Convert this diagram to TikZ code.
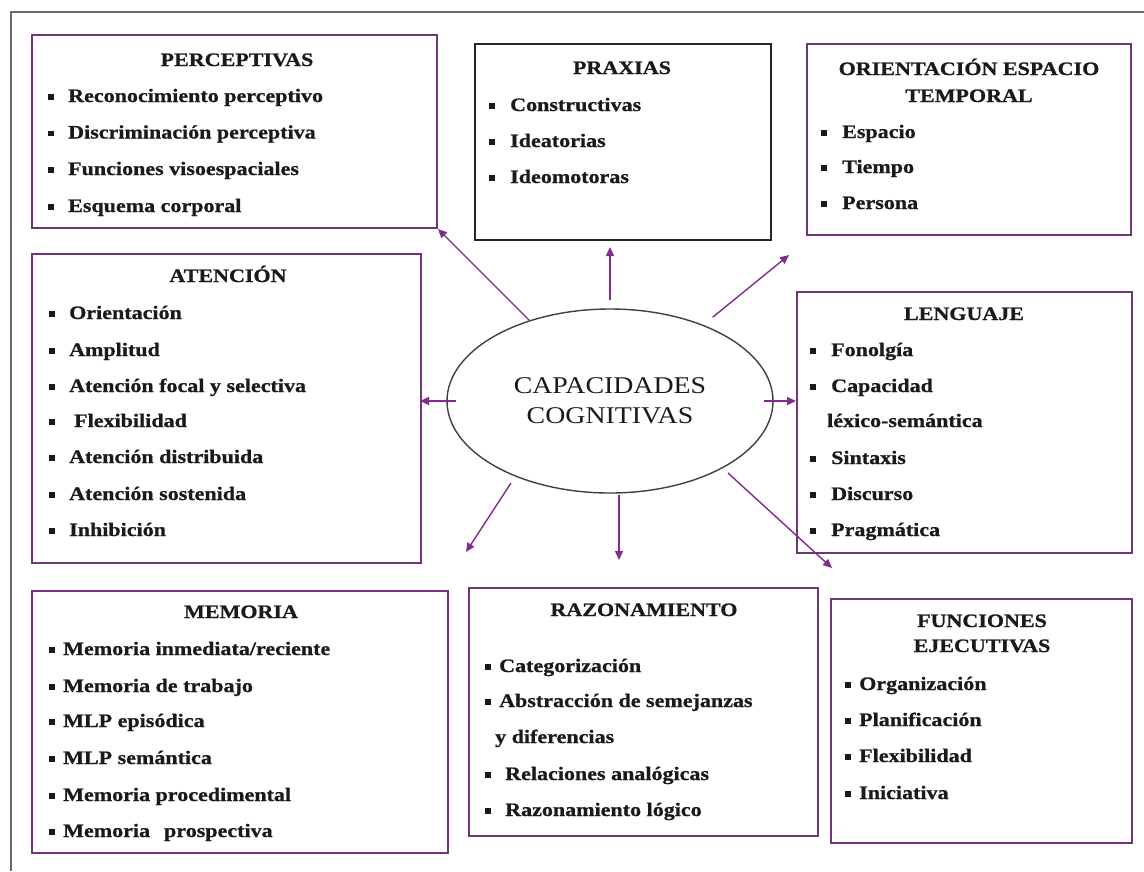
\documentclass[tikz,border=0pt]{standalone}
\usepackage{fontspec}
\setmainfont{Liberation Serif}[FakeStretch=1.16,BoldFeatures={FakeBold=0.8}]
\usetikzlibrary{shapes.geometric,arrows.meta}
\definecolor{boxc}{RGB}{112,52,120}
\definecolor{arrc}{RGB}{128,44,140}
\definecolor{framec}{RGB}{105,105,105}
\definecolor{txtc}{RGB}{25,25,30}
\tikzset{
  cbox/.style={draw=boxc,line width=2pt,rectangle,inner sep=0pt,fill=none},
  kbox/.style={draw=black!85,line width=2pt,rectangle,inner sep=0pt},
  ell/.style={draw=black!75,line width=1.4pt,ellipse,inner sep=0pt,align=center,
    font=\fontsize{24}{30}\selectfont,text=txtc},
  arr/.style={draw=arrc,line width=1.4pt,-{Triangle[length=9pt,width=8pt]}},
  itm/.style={anchor=base west,inner sep=0pt,text=txtc,
    font=\fontsize{19}{19}\selectfont\bfseries},
  ttl/.style={anchor=base,inner sep=0pt,text=txtc,
    font=\fontsize{19}{19}\selectfont\bfseries},
  framel/.style={draw=framec,line width=1.5pt}
}
\newcommand\itm[5]{\node[itm] (#1) at (#2,#3) {\llap{\rule[2.5pt]{5.5pt}{5.5pt}\hspace{#4pt}}#5};}
\newcommand\boxnode[6]{\node[#2,minimum width=#5pt,minimum height=#6pt] (#1) at (#3,#4) {};}
\begin{document}
\begin{tikzpicture}[x=1pt,y=-1pt]
\useasboundingbox (0,0) rectangle (1144,871);
\fill[white] (0,0) rectangle (1144,871);
\draw[framel] (11,871) -- (11,12) -- (1144,12);
% boxes
\boxnode{perc}{cbox}{234.5}{131.5}{405}{193}
\boxnode{prax}{kbox}{623}{142}{296}{196}
\boxnode{orie}{cbox}{969}{139.5}{324}{191}
\boxnode{aten}{cbox}{226.5}{408.5}{389}{309}
\boxnode{leng}{cbox}{964.5}{422.5}{335}{261}
\boxnode{memo}{cbox}{240}{722}{416}{262}
\boxnode{razo}{cbox}{643.5}{712}{349}{248}
\boxnode{func}{cbox}{981.5}{721}{301}{244}
% ellipse
\node[ell,minimum width=326pt,minimum height=184pt] (ell) at (610,401) {CAPACIDADES\\COGNITIVAS};
% PERCEPTIVAS
\node[ttl] (percT) at (237,66) {PERCEPTIVAS};
\itm{perc1}{68}{102}{14.5}{Reconocimiento perceptivo}
\itm{perc2}{68}{138.5}{14.5}{Discriminación perceptiva}
\itm{perc3}{68}{175}{14.5}{Funciones visoespaciales}
\itm{perc4}{68}{212}{14.5}{Esquema corporal}
% PRAXIAS
\node[ttl] (praxT) at (622,74) {PRAXIAS};
\itm{prax1}{510}{111}{15.5}{Constructivas}
\itm{prax2}{510}{147}{15.5}{Ideatorias}
\itm{prax3}{510}{183}{15.5}{Ideomotoras}
% ORIENTACION
\node[ttl] (orieT1) at (969,75) {ORIENTACIÓN ESPACIO};
\node[ttl] (orieT2) at (969,102) {TEMPORAL};
\itm{orie1}{842}{138}{15.5}{Espacio}
\itm{orie2}{842}{173}{15.5}{Tiempo}
\itm{orie3}{842}{209}{15.5}{Persona}
% ATENCION
\node[ttl] (atenT) at (228,282) {ATENCIÓN};
\itm{aten1}{69}{319}{14.5}{Orientación}
\itm{aten2}{69}{356}{14.5}{Amplitud}
\itm{aten3}{69}{392}{14.5}{Atención focal y selectiva}
\itm{aten4}{74}{427}{19.5}{Flexibilidad}
\itm{aten5}{69}{463}{14.5}{Atención distribuida}
\itm{aten6}{69}{500}{14.5}{Atención sostenida}
\itm{aten7}{69}{536}{14.5}{Inhibición}
% LENGUAJE
\node[ttl] (lengT) at (964,320) {LENGUAJE};
\itm{leng1}{831}{356}{15.5}{Fonolgía}
\itm{leng2}{831}{392}{15.5}{Capacidad}
\node[itm] (leng3) at (827,427) {léxico-semántica};
\itm{leng4}{831}{464}{15.5}{Sintaxis}
\itm{leng5}{831}{500}{15.5}{Discurso}
\itm{leng6}{831}{536}{15.5}{Pragmática}
% MEMORIA
\node[ttl] (memoT) at (241,618) {MEMORIA};
\itm{memo1}{63}{655}{8.5}{Memoria inmediata/reciente}
\itm{memo2}{63}{692}{8.5}{Memoria de trabajo}
\itm{memo3}{63}{727}{8.5}{MLP episódica}
\itm{memo4}{63}{764}{8.5}{MLP semántica}
\itm{memo5}{63}{801}{8.5}{Memoria procedimental}
\itm{memo6}{63}{837}{8.5}{Memoria\hspace{14pt}prospectiva}
% RAZONAMIENTO
\node[ttl] (razoT) at (644,616) {RAZONAMIENTO};
\itm{razo1}{499}{672}{8.5}{Categorización}
\itm{razo2}{499}{707}{8.5}{Abstracción de semejanzas}
\node[itm] (razo3) at (495,743) {y diferencias};
\itm{razo4}{505}{780}{14.5}{Relaciones analógicas}
\itm{razo5}{505}{816}{14.5}{Razonamiento lógico}
% FUNCIONES
\node[ttl] (funcT1) at (982,627) {FUNCIONES};
\node[ttl] (funcT2) at (982,652) {EJECUTIVAS};
\itm{func1}{859}{690}{8.5}{Organización}
\itm{func2}{859}{726}{8.5}{Planificación}
\itm{func3}{859}{762}{8.5}{Flexibilidad}
\itm{func4}{859}{799}{8.5}{Iniciativa}
% arrows
\coordinate (e3) at (789,255);
\coordinate (s6) at (511,483);
\coordinate (e6) at (466,552);
\coordinate (s7) at (619,495);
\coordinate (e7) at (619,560);
\coordinate (s8) at (728,473);
\coordinate (e8) at (832,568);
\draw[arr] (ell) -- (perc.south east);
\draw[arr,shorten >=6pt] ([yshift=8pt]ell.north) -- (ell.north |- prax.south);
\draw[arr,shorten <=12pt] (ell) -- (e3);
\draw[arr,shorten >=-2pt] ([xshift=10pt]ell.west) -- (aten.east |- ell.west);
\draw[arr] ([xshift=-10pt]ell.east) -- (leng.west |- ell.east);
\draw[arr] (s6) -- (e6);
\draw[arr] (s7) -- (e7);
\draw[arr] (s8) -- (e8);
\end{tikzpicture}
\end{document}
